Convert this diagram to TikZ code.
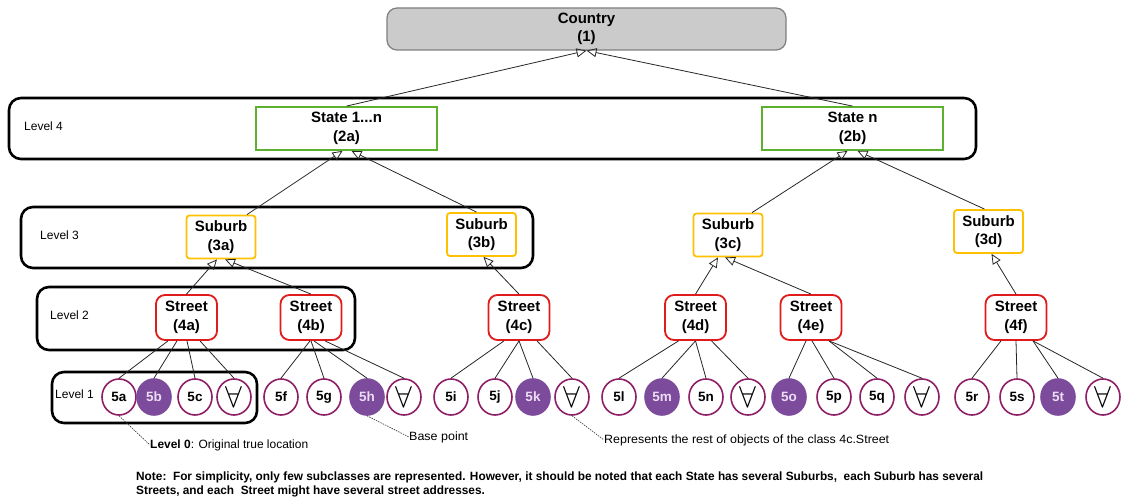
\documentclass[tikz,border=0pt]{standalone}
\usepackage{fontspec}
\setmainfont{Liberation Sans}
\usepackage{graphicx}
\usetikzlibrary{shapes.geometric,arrows.meta,calc}

\definecolor{stategreen}{HTML}{5DB12F}
\definecolor{suburbgold}{HTML}{FFC000}
\definecolor{streetred}{HTML}{E01B1B}
\definecolor{addrborder}{HTML}{8E1F66}
\definecolor{addrfill}{HTML}{7D4B9C}
\definecolor{addrtext}{HTML}{EBDDF3}
\definecolor{countryfill}{HTML}{CBCBCB}
\definecolor{countryline}{HTML}{7F7F7F}

% stretch a line of text horizontally to a given width
\newcommand{\hfit}[2]{\resizebox{#1}{\height}{#2}}
\newcommand{\anyrest}{\scalebox{2.1}{$\forall$}}

\begin{document}
\begin{tikzpicture}[x=1pt,y=-1pt,
  levelbox/.style={draw=black,line width=2.6pt,rounded corners=12pt,inner sep=0pt},
  levellabel/.style={anchor=west,inner sep=0pt,font=\fontsize{12}{14}\selectfont},
  classtext/.style={font=\fontsize{15}{18.5}\selectfont\bfseries,align=center,inner sep=0pt},
  countrybox/.style={classtext,draw=countryline,fill=countryfill,line width=1.2pt,rounded corners=10pt,minimum width=399pt,minimum height=42pt},
  statebox/.style={classtext,draw=stategreen,line width=1.8pt,fill=white,minimum width=181pt,minimum height=43pt},
  suburbbox/.style={classtext,draw=suburbgold,line width=1.8pt,fill=white,rounded corners=3pt,minimum width=69pt,minimum height=43pt},
  streetbox/.style={classtext,draw=streetred,line width=1.8pt,fill=white,rounded corners=9pt,minimum width=61pt,minimum height=45pt},
  addr/.style={ellipse,draw=addrborder,line width=1.6pt,fill=white,minimum width=34pt,minimum height=36pt,inner sep=0pt,font=\fontsize{13.5}{14}\selectfont\bfseries},
  addrsel/.style={addr,draw=addrfill,fill=addrfill,text=addrtext},
  link/.style={draw=black!85,line width=0.8pt},
  inherit/.style={link,-{Triangle[open,length=10pt,width=9pt]}},
  leader/.style={draw=black!80,line width=0.6pt,dash pattern=on 1.5pt off 1pt},
  remark/.style={anchor=west,inner sep=0pt,font=\fontsize{12}{13}\selectfont},
]
\useasboundingbox (0,0) rectangle (1121,502);

% level frames
\node[levelbox,minimum width=967pt,minimum height=61pt] (L4) at (492.5,128.5) {};
\node[levelbox,minimum width=512pt,minimum height=61pt] (L3) at (277,237.5) {};
\node[levelbox,minimum width=318pt,minimum height=63pt] (L2) at (196,318.5) {};
\node[levelbox,minimum width=205pt,minimum height=51pt] (L1) at (154.5,397.5) {};
\node[levellabel] (l4t) at (24,126) {Level 4};
\node[levellabel] (l3t) at (40,235) {Level 3};
\node[levellabel] (l2t) at (50,315) {Level 2};
\node[levellabel] (l1t) at (55,394) {Level 1};

% classes
\node[countrybox] (c1) at (586.5,29) {Country\\(1)};
\node[statebox] (s2a) at (346.5,128.5) {State 1...n\\(2a)};
\node[statebox] (s2b) at (852.5,128.5) {State n\\(2b)};
\node[suburbbox] (s3a) at (221,237) {Suburb\\(3a)};
\node[suburbbox] (s3b) at (481.5,234.5) {Suburb\\(3b)};
\node[suburbbox] (s3c) at (728,235) {Suburb\\(3c)};
\node[suburbbox] (s3d) at (988.5,231.5) {Suburb\\(3d)};
\node[streetbox] (s4a) at (186.5,317.5) {Street\\(4a)};
\node[streetbox] (s4b) at (311,317.5) {Street\\(4b)};
\node[streetbox] (s4c) at (519,317.5) {Street\\(4c)};
\node[streetbox] (s4d) at (695.5,317.5) {Street\\(4d)};
\node[streetbox] (s4e) at (811,317.5) {Street\\(4e)};
\node[streetbox] (s4f) at (1016,317.5) {Street\\(4f)};

% street addresses
\node[addr]    (a5a) at (119,397) {5a};
\node[addrsel] (a5b) at (154,397) {5b};
\node[addr]    (a5c) at (195,397) {5c};
\node[addr]    (aAa) at (234,397) {\anyrest};
\node[addr]    (a5f) at (281,397) {5f};
\node[addr]    (a5g) at (324,397) {5g};
\node[addrsel] (a5h) at (367,397) {5h};
\node[addr]    (aAb) at (404,397) {\anyrest};
\node[addr]    (a5i) at (451,397) {5i};
\node[addr]    (a5j) at (495,397) {5j};
\node[addrsel] (a5k) at (533,397) {5k};
\node[addr]    (aAc) at (572,397) {\anyrest};
\node[addr]    (a5l) at (619,397) {5l};
\node[addrsel] (a5m) at (662,397) {5m};
\node[addr]    (a5n) at (706,397) {5n};
\node[addr]    (aAd) at (748,397) {\anyrest};
\node[addrsel] (a5o) at (789,397) {5o};
\node[addr]    (a5p) at (834,397) {5p};
\node[addr]    (a5q) at (877,397) {5q};
\node[addr]    (aAe) at (922,397) {\anyrest};
\node[addr]    (a5r) at (972,397) {5r};
\node[addr]    (a5s) at (1017,397) {5s};
\node[addrsel] (a5t) at (1058,397) {5t};
\node[addr]    (aAf) at (1103,397) {\anyrest};

% generalisation links
\draw[inherit] (s2a.north) -- (c1.south);
\draw[inherit] (s2b.north) -- (c1.south);
\draw[inherit] ($(s3a.north)+(26,0)$) -- ($(s2a.south)+(-4,0)$);
\draw[inherit] ($(s3b.north)+(-5,0)$) -- ($(s2a.south)+(5,0)$);
\draw[inherit] ($(s3c.north)+(24,0)$) -- ($(s2b.south)+(-5,0)$);
\draw[inherit] ($(s3d.north)+(-4,0)$) -- ($(s2b.south)+(5,0)$);
\draw[inherit] (s4a.north) -- ($(s3a.south)+(-4,0)$);
\draw[inherit] (s4b.north) -- ($(s3a.south)+(4,0)$);
\draw[inherit] (s4c.north) -- ($(s3b.south)+(2,0)$);
\draw[inherit] (s4d.north) -- ($(s3c.south)+(-10,0)$);
\draw[inherit] (s4e.north) -- ($(s3c.south)+(-3,0)$);
\draw[inherit] (s4f.north) -- ($(s3d.south)+(3,0)$);

% street to address links
\foreach \s/\d/\a in {s4a/-18.5/a5a, s4a/-9.5/a5b, s4a/0.5/a5c, s4a/13.5/aAa,
                      s4b/-1/a5f, s4b/0/a5g, s4b/3/a5h, s4b/14/aAb,
                      s4c/-15/a5i, s4c/0/a5j, s4c/0/a5k, s4c/18/aAc,
                      s4d/-17/a5l, s4d/0/a5m, s4d/0/a5n, s4d/16/aAd,
                      s4e/-5/a5o, s4e/1/a5p, s4e/18/a5q, s4e/18/aAe,
                      s4f/-15/a5r, s4f/0/a5s, s4f/17/a5t, s4f/17/aAf}
  \draw[link] ($(\s.south)+(\d,0)$) -- (\a.north);

% remarks
\node[remark] (r0) at (150,445) {\hfit{158pt}{\textbf{Level 0}: Original true location}};
\node[remark] (rb) at (409,437) {\hfit{59pt}{Base point}};
\node[remark] (rr) at (604,440) {\hfit{285pt}{Represents the rest of objects of the class 4c.Street}};
\draw[leader] (a5a.south) -- (r0.west);
\draw[leader] (a5h.south) -- (rb.west);
\draw[leader] (aAc.south) -- (rr.west);

\node[anchor=west,inner sep=0pt,font=\fontsize{12}{14}\selectfont\bfseries] (nt) at (136,485)
  {\hfit{847pt}{\begin{tabular}{@{}l@{}}Note:\ \ For simplicity, only few subclasses are represented. However, it should be noted that each State has several Suburbs,\ \ each Suburb has several\\Streets, and each\ \ Street might have several street addresses.\end{tabular}}};
\end{tikzpicture}
\end{document}
